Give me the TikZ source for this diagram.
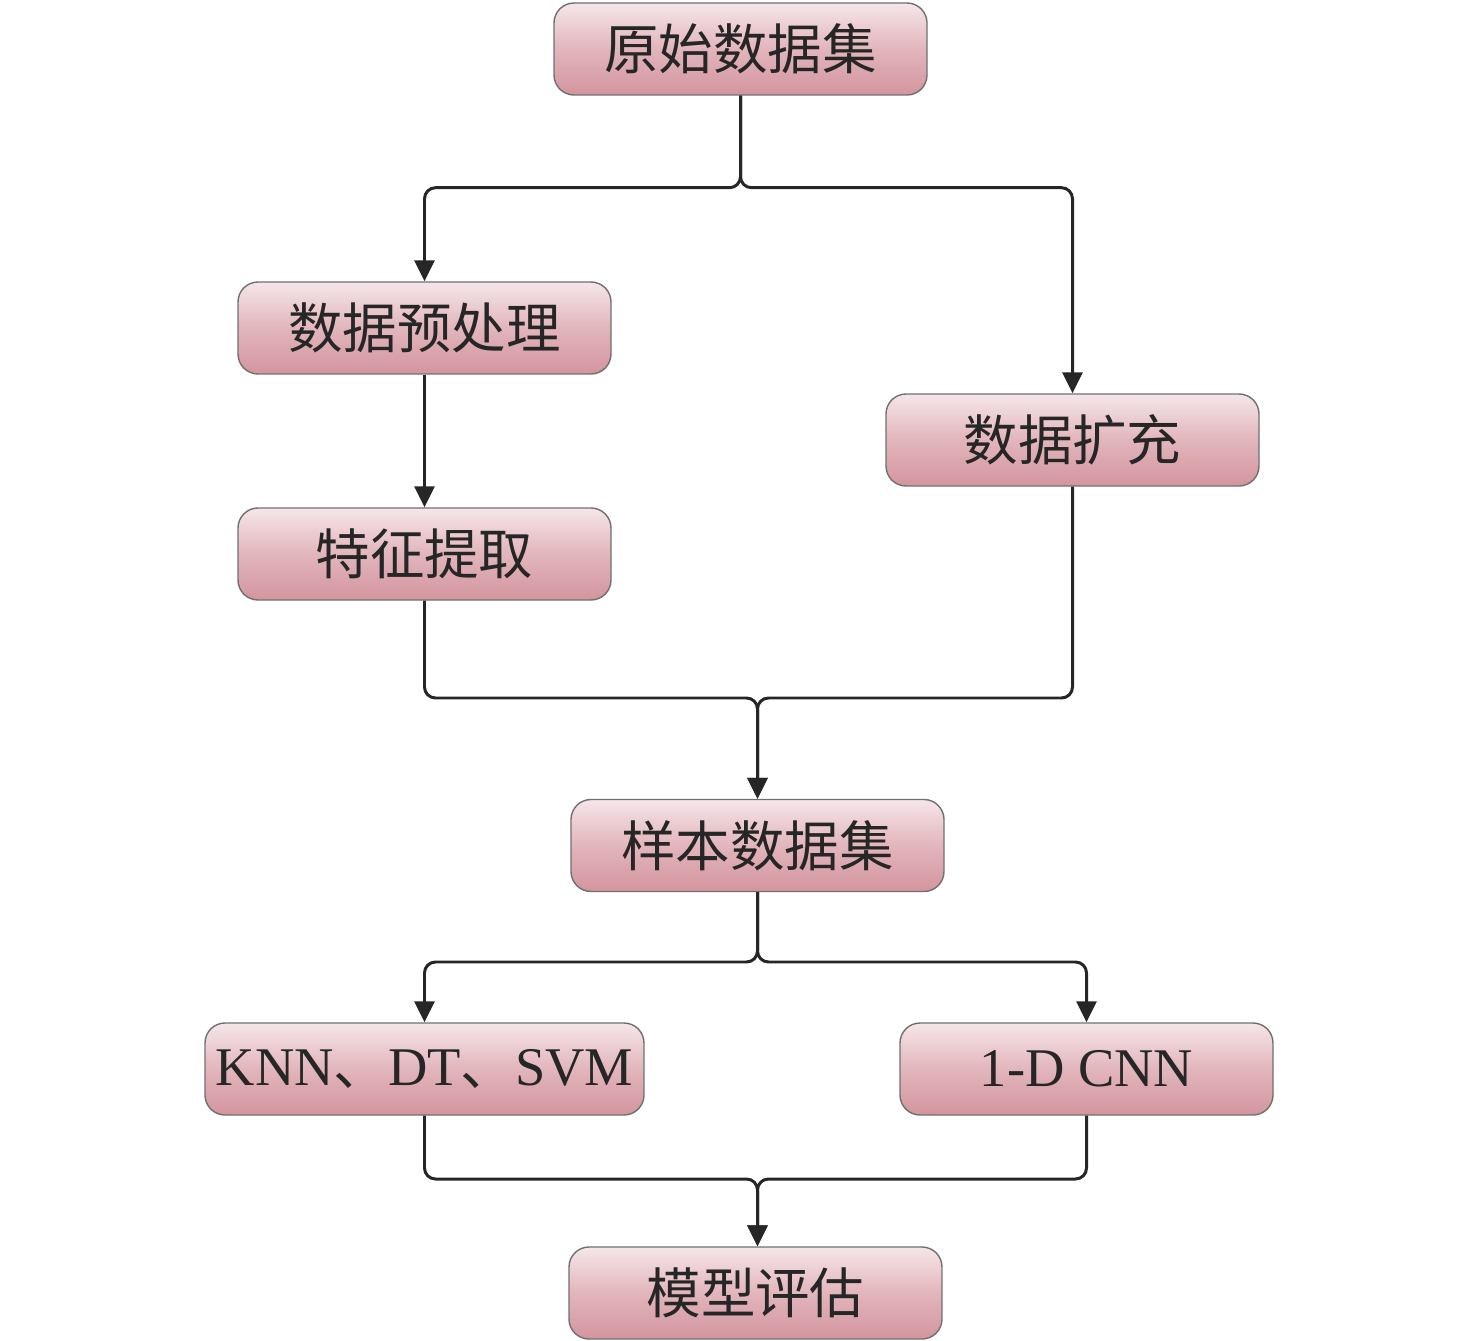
\documentclass[tikz,border=0pt]{standalone}
\usepackage{fontspec}
\setmainfont{Liberation Serif}
\newfontfamily\cjk{Noto Sans CJK SC}
\usepackage{tikz}
\usetikzlibrary{positioning,arrows.meta,calc}
\definecolor{boxtop}{HTML}{F5E6E9}
\definecolor{boxmid}{HTML}{E2B5BC}
\definecolor{boxbot}{HTML}{D3959E}
\definecolor{boxline}{HTML}{707070}

\begin{document}
\begin{tikzpicture}[box/.style={draw=boxline,line width=0.8pt,rounded corners=0.4cm,
    top color=boxtop,bottom color=boxbot,middle color=boxmid,
    minimum width=7.46cm,minimum height=1.84cm,inner sep=0pt,
    font=\cjk\fontsize{31}{37}\selectfont,text=black!85},
  link/.style={line width=1.7pt,black!85,rounded corners=0.22cm},
  arr/.style={link,-{Triangle[length=0.42cm,width=0.4cm]}}]
    \useasboundingbox (0,0) rectangle (29.52,-26.82);

    \node[box] (raw)    at (14.81,-0.98)  {原始数据集};
    \node[box] (pre)    at (8.49,-6.56)   {数据预处理};
    \node[box] (feat)   at (8.49,-11.08)  {特征提取};
    \node[box] (aug)    at (21.45,-8.80)  {数据扩充};
    \node[box] (sample) at (15.15,-16.91) {样本数据集};
    \node[box,minimum width=8.78cm] (knn) at (8.49,-21.38)
        {{\rmfamily KNN}、{\rmfamily DT}、{\rmfamily SVM}};
    \node[box] (cnn)    at (21.73,-21.38) {\rmfamily 1-D CNN};
    \node[box] (eval)   at (15.11,-25.86) {模型评估};

    \coordinate (split1) at ($(raw.south)+(0,-1.84)$);
    \coordinate (merge1) at (15.15,-13.96);
    \coordinate (split2) at (15.15,-19.24);
    \coordinate (merge2) at (15.15,-23.58);

    % top split
    \draw[arr] (raw.south) -- (split1) -| (pre.north);
    \draw[arr] (raw.south) -- (split1) -| (aug.north);
    \draw[arr] (pre.south) -- (feat.north);

    % merge into sample set
    \draw[arr] (feat.south) |- (merge1) -- (sample.north);
    \draw[arr] (aug.south) |- (merge1) -- (sample.north);

    % models
    \draw[arr] (sample.south) -- (split2) -| (knn.north);
    \draw[arr] (sample.south) -- (split2) -| (cnn.north);

    \draw[arr] (knn.south) |- (merge2) -- (merge2 |- eval.north);
    \draw[arr] (cnn.south) |- (merge2) -- (merge2 |- eval.north);
  \end{tikzpicture}
\end{document}
